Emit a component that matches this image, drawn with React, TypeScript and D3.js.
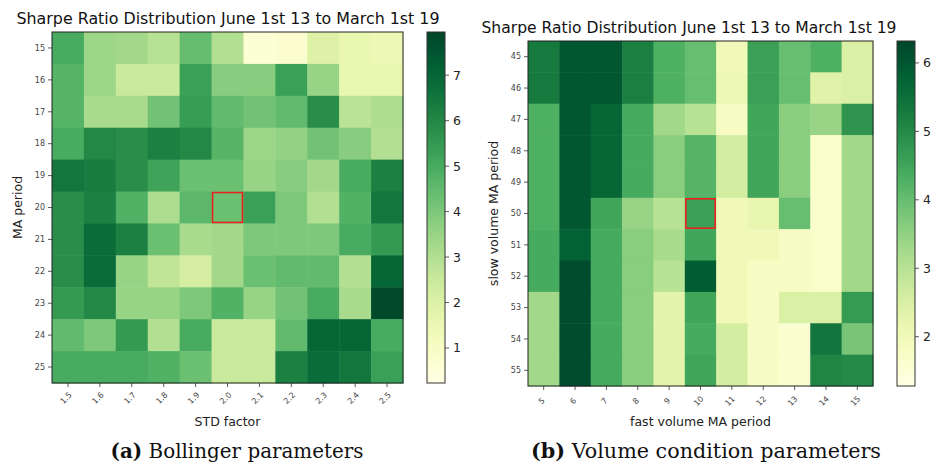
import { scaleBand, scaleLinear, scaleSequential, interpolateYlGn, range } from 'd3';

// Bollinger grid: rows = MA period, columns = STD factor
const maPeriods = ['15', '16', '17', '18', '19', '20', '21', '22', '23', '24', '25'];
const stdFactors = ['1.5', '1.6', '1.7', '1.8', '1.9', '2.0', '2.1', '2.2', '2.3', '2.4', '2.5'];
const bollingerSharpe = [
  [5.0, 3.4, 3.3, 2.9, 4.4, 3.0, 0.6, 0.7, 2.0, 1.6, 1.5],
  [4.7, 3.4, 2.5, 2.5, 5.3, 3.8, 3.8, 5.3, 3.5, 1.6, 1.6],
  [4.7, 3.2, 3.2, 4.2, 5.4, 4.5, 4.2, 4.5, 5.8, 2.8, 3.1],
  [5.0, 6.0, 5.8, 6.2, 6.0, 4.7, 3.4, 3.6, 4.2, 3.8, 3.0],
  [6.5, 6.3, 5.8, 5.2, 4.3, 4.3, 3.5, 3.8, 3.3, 5.0, 6.2],
  [5.8, 6.2, 4.8, 3.1, 4.6, 4.3, 5.3, 4.0, 3.0, 4.8, 6.5],
  [5.8, 6.8, 6.2, 4.3, 3.2, 3.3, 4.0, 4.0, 4.0, 5.0, 5.5],
  [5.8, 6.8, 3.5, 2.7, 2.2, 3.3, 4.3, 4.5, 4.5, 3.0, 7.0],
  [5.5, 6.0, 3.5, 3.5, 4.0, 4.8, 3.5, 4.2, 5.0, 3.2, 7.8],
  [4.5, 4.0, 5.5, 3.0, 5.0, 2.5, 2.5, 4.5, 7.0, 7.0, 5.0],
  [5.0, 5.0, 5.0, 4.8, 4.3, 2.5, 2.5, 6.2, 6.8, 6.5, 5.3],
];
const bollingerRange = [0.23, 7.95];
const bollingerTicks = [1, 2, 3, 4, 5, 6, 7];
const bollingerPick = ['20', '2.0'];

// Volume grid: rows = slow volume MA, columns = fast volume MA
const slowPeriods = ['45', '46', '47', '48', '49', '50', '51', '52', '53', '54', '55'];
const fastPeriods = ['5', '6', '7', '8', '9', '10', '11', '12', '13', '14', '15'];
const volumeSharpe = [
  [5.3, 6.0, 6.0, 5.2, 4.3, 4.0, 2.0, 4.6, 4.0, 4.3, 2.5],
  [5.3, 6.0, 6.0, 5.2, 4.3, 4.0, 2.1, 4.6, 4.0, 2.4, 2.5],
  [4.3, 6.0, 5.7, 4.4, 3.3, 3.0, 1.8, 4.5, 3.6, 3.4, 4.8],
  [4.3, 6.0, 5.7, 4.4, 3.6, 4.2, 2.6, 4.5, 3.6, 1.7, 3.3],
  [4.3, 6.0, 5.7, 4.4, 3.6, 4.2, 2.6, 4.5, 3.6, 1.7, 3.3],
  [4.3, 6.0, 4.5, 3.4, 3.0, 4.6, 2.0, 2.2, 4.0, 1.7, 3.3],
  [4.4, 5.8, 4.4, 3.6, 3.2, 4.5, 2.0, 2.0, 1.8, 1.7, 3.3],
  [4.4, 6.2, 4.4, 3.6, 3.0, 5.9, 2.0, 1.8, 1.8, 1.7, 3.3],
  [3.3, 6.2, 4.4, 3.6, 2.3, 4.5, 2.0, 1.8, 2.5, 2.5, 4.7],
  [3.3, 6.2, 4.4, 3.6, 2.3, 4.4, 2.6, 1.8, 1.6, 5.4, 3.8],
  [3.3, 6.2, 4.4, 3.6, 2.3, 4.5, 2.6, 1.8, 1.6, 5.1, 5.0],
];
const volumeRange = [1.28, 6.32];
const volumeTicks = [2, 3, 4, 5, 6];
const volumePick = ['50', '10'];

const titleText = 'Sharpe Ratio Distribution June 1st 13 to March 1st 19';
const sans = 'DejaVu Sans, sans-serif';

interface HeatmapProps {
  id: string;
  x: number;
  y: number;
  size: number;
  rows: string[];
  cols: string[];
  values: number[][];
  domain: number[];
  ticks: number[];
  pick: string[];
  xLabel: string;
  yLabel: string;
  yLabelX: number;
  xLabelY: number;
  titleX: number;
  titleY: number;
  titleW: number;
  barX: number;
}

function Heatmap(p: HeatmapProps) {
  const xScale = scaleBand<string>().domain(p.cols).range([p.x, p.x + p.size]);
  const yScale = scaleBand<string>().domain(p.rows).range([p.y, p.y + p.size]);
  const color = scaleSequential(interpolateYlGn).domain(p.domain as [number, number]);
  const barScale = scaleLinear().domain(p.domain).range([p.y + p.size, p.y]);
  const barW = 18;
  const bottom = p.y + p.size;
  const gradId = `grad-${p.id}`;

  return (
    <g>
      <defs>
        <linearGradient id={gradId} x1="0" y1="1" x2="0" y2="0">
          {range(0, 1.0001, 0.05).map((t) => (
            <stop key={t} offset={t} stopColor={interpolateYlGn(t)} />
          ))}
        </linearGradient>
      </defs>

      <text
        x={p.titleX}
        y={p.titleY}
        fontFamily={sans}
        fontSize={15.6}
        fill="#111"
        textAnchor="middle"
        textLength={p.titleW}
        lengthAdjust="spacingAndGlyphs"
      >
        {titleText}
      </text>

      {/* cells */}
      {p.values.map((row, i) =>
        row.map((v, j) => (
          <rect
            key={`${i}-${j}`}
            x={xScale(p.cols[j])}
            y={yScale(p.rows[i])}
            width={xScale.bandwidth() + 0.5}
            height={yScale.bandwidth() + 0.5}
            fill={color(v)}
          />
        ))
      )}

      <rect x={p.x} y={p.y} width={p.size} height={p.size} fill="none" stroke="#222" strokeWidth={1} />

      {/* highlighted parameter pair */}
      <rect
        x={(xScale(p.pick[1]) ?? 0) + 1}
        y={(yScale(p.pick[0]) ?? 0) + 1}
        width={xScale.bandwidth() - 2}
        height={yScale.bandwidth() - 2}
        fill="none"
        stroke="#e8231f"
        strokeWidth={1.6}
      />

      {/* y axis */}
      {p.rows.map((r) => {
        const cy = (yScale(r) ?? 0) + yScale.bandwidth() / 2;
        return (
          <g key={r}>
            <line x1={p.x - 4} x2={p.x} y1={cy} y2={cy} stroke="#333" strokeWidth={0.8} />
            <text x={p.x - 7} y={cy} dy="0.35em" textAnchor="end" fontFamily={sans} fontSize={8} fill="#444">
              {r}
            </text>
          </g>
        );
      })}

      {/* x axis */}
      {p.cols.map((c) => {
        const cx = (xScale(c) ?? 0) + xScale.bandwidth() / 2;
        return (
          <g key={c}>
            <line x1={cx} x2={cx} y1={bottom} y2={bottom + 4} stroke="#333" strokeWidth={0.8} />
            <text
              transform={`translate(${cx - 2},${bottom + 15}) rotate(-45)`}
              textAnchor="middle"
              dy="0.35em"
              fontFamily={sans}
              fontSize={8}
              fill="#444"
            >
              {c}
            </text>
          </g>
        );
      })}

      <text x={p.x + p.size / 2} y={p.xLabelY} textAnchor="middle" fontFamily={sans} fontSize={12.5} fill="#222">
        {p.xLabel}
      </text>
      <text
        transform={`translate(${p.yLabelX},${p.y + p.size / 2}) rotate(-90)`}
        textAnchor="middle"
        fontFamily={sans}
        fontSize={12.5}
        fill="#222"
      >
        {p.yLabel}
      </text>

      {/* colorbar */}
      <rect x={p.barX} y={p.y} width={barW} height={p.size} fill={`url(#${gradId})`} stroke="#333" strokeWidth={1} />
      {p.ticks.map((t) => (
        <g key={t}>
          <line x1={p.barX + barW} x2={p.barX + barW + 4} y1={barScale(t)} y2={barScale(t)} stroke="#333" strokeWidth={0.8} />
          <text x={p.barX + barW + 8} y={barScale(t)} dy="0.36em" fontFamily={sans} fontSize={12.5} fill="#222">
            {t}
          </text>
        </g>
      ))}
    </g>
  );
}

export default function App() {
  const serif = 'DejaVu Serif, serif';
  return (
    <svg
      width={936}
      height={474}
      style={{ position: 'absolute', left: 0, top: 0, background: '#fff' }}
    >
      <Heatmap
        id="a"
        x={52}
        y={32}
        size={351}
        rows={maPeriods}
        cols={stdFactors}
        values={bollingerSharpe}
        domain={bollingerRange}
        ticks={bollingerTicks}
        pick={bollingerPick}
        xLabel="STD factor"
        yLabel="MA period"
        yLabelX={22}
        xLabelY={426}
        titleX={228}
        titleY={24}
        titleW={423}
        barX={427}
      />
      <Heatmap
        id="b"
        x={528}
        y={41}
        size={345}
        rows={slowPeriods}
        cols={fastPeriods}
        values={volumeSharpe}
        domain={volumeRange}
        ticks={volumeTicks}
        pick={volumePick}
        xLabel="fast volume MA period"
        yLabel="slow volume MA period"
        yLabelX={498}
        xLabelY={426}
        titleX={689}
        titleY={33}
        titleW={415}
        barX={897}
      />
      <text x={237} y={458} textAnchor="middle" fontFamily={serif} fontSize={20} fill="#111" textLength={253} lengthAdjust="spacingAndGlyphs">
        <tspan fontWeight="bold">(a)</tspan> Bollinger parameters
      </text>
      <text x={706} y={458} textAnchor="middle" fontFamily={serif} fontSize={20} fill="#111" textLength={350} lengthAdjust="spacingAndGlyphs">
        <tspan fontWeight="bold">(b)</tspan> Volume condition parameters
      </text>
    </svg>
  );
}
